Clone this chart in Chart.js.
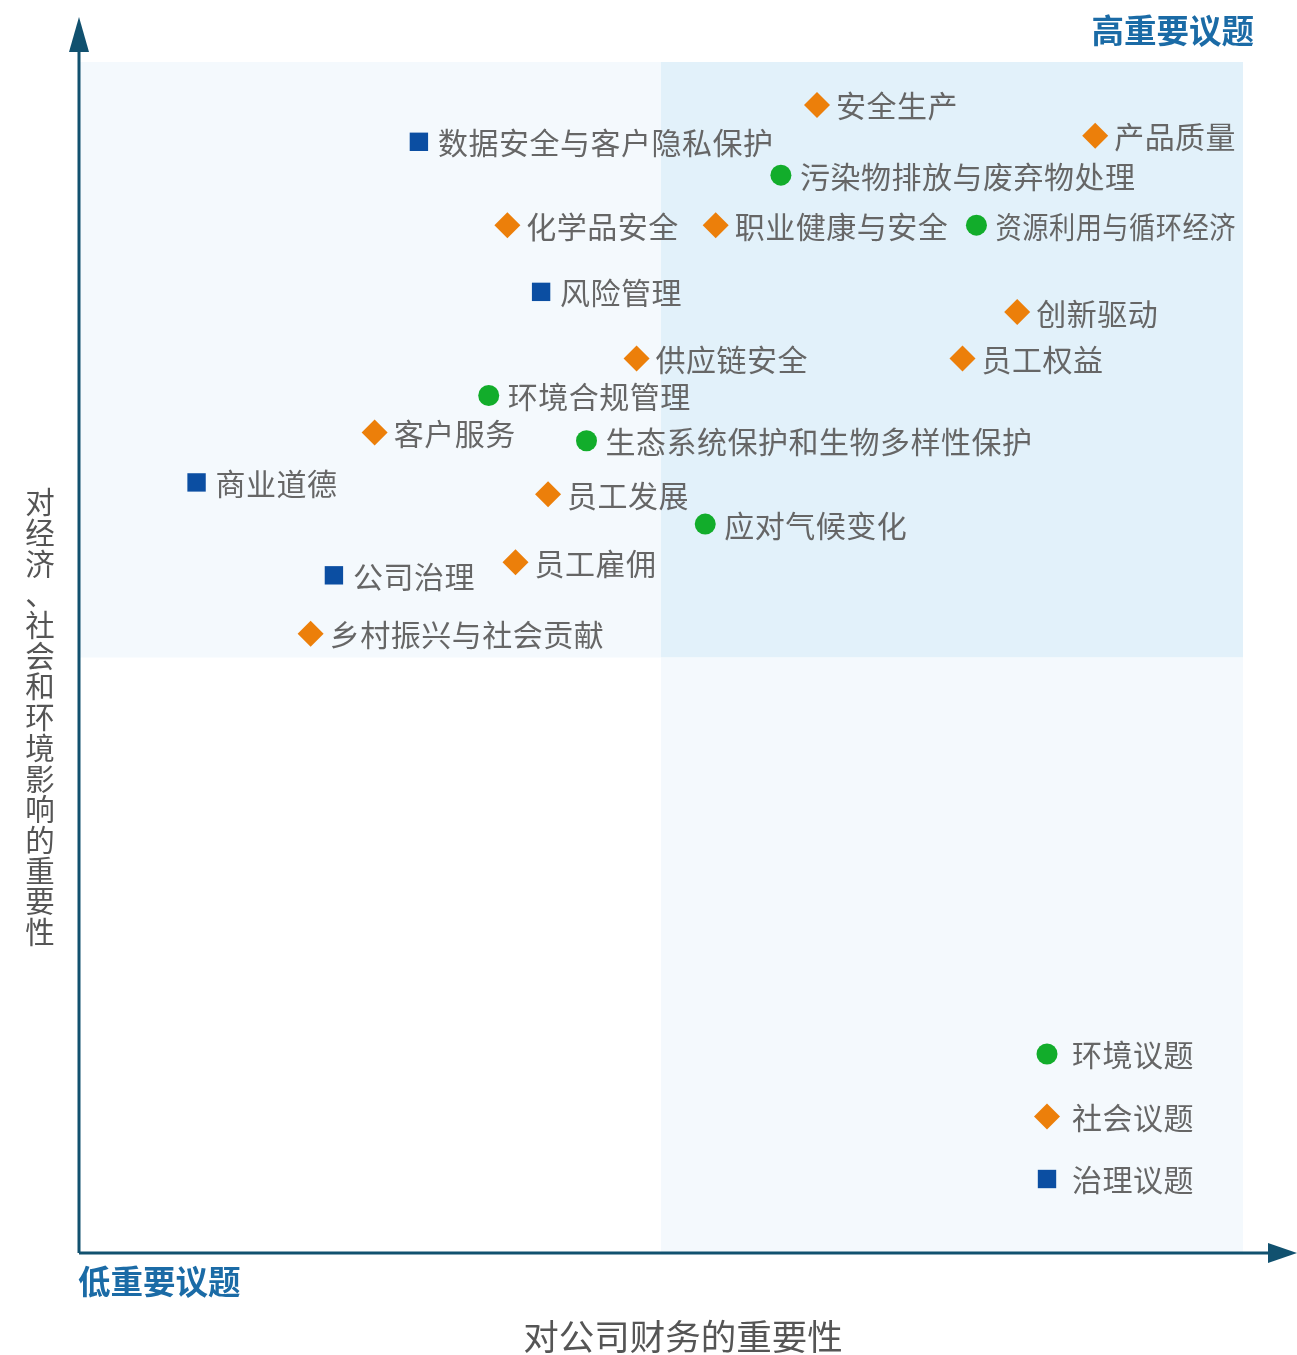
<!DOCTYPE html>
<html>
<head>
<meta charset="utf-8">
<script src="https://cdn.jsdelivr.net/npm/chart.js@4.4.1/dist/chart.umd.min.js"></script>
<style>
  html, body { margin: 0; padding: 0; background: #ffffff; }
  #wrap { width: 1297px; height: 1355px; position: relative; }
</style>
</head>
<body>
<div id="wrap"><canvas id="c" width="1297" height="1355"></canvas></div>
<script>
// ---- Data ----
const seriesNames = ['环境议题', '社会议题', '治理议题'];

const envLabels = ['污染物排放与废弃物处理', '资源利用与循环经济', '环境合规管理', '生态系统保护和生物多样性保护', '应对气候变化'];
const envX = [60.3, 77.1, 35.2, 43.6, 53.8];
const envY = [90.5, 86.3, 72.0, 68.2, 61.2];

const socLabels = ['安全生产', '产品质量', '化学品安全', '职业健康与安全', '创新驱动', '供应链安全', '员工权益', '客户服务', '员工发展', '员工雇佣', '乡村振兴与社会贡献'];
const socX = [63.4, 87.3, 36.8, 54.7, 80.6, 47.9, 75.9, 25.4, 40.3, 37.5, 19.9];
const socY = [96.4, 93.8, 86.3, 86.3, 79.0, 75.1, 75.1, 68.9, 63.7, 58.0, 52.0];

const govLabels = ['数据安全与客户隐私保护', '风险管理', '商业道德', '公司治理'];
const govX = [29.2, 39.7, 10.1, 21.9];
const govY = [93.3, 80.7, 64.7, 56.9];

const axisTitleX = '对公司财务的重要性';
const axisTitleY = '对经济、社会和环境影响的重要性';
const highLabel = '高重要议题';
const lowLabel = '低重要议题';

const toPoints = (xs, ys, ls) => xs.map((x, i) => ({ x: x, y: ys[i], label: ls[i] }));

const FONT = '"Noto Sans CJK SC", "Noto Sans", sans-serif';
const AXIS_COLOR = '#11516f';

const matrixPlugin = {
  id: 'matrix',
  beforeDatasetsDraw(chart) {
    const { ctx, chartArea: a, scales } = chart;
    const mx = scales.x.getPixelForValue(50);
    const my = scales.y.getPixelForValue(50);
    ctx.save();
    ctx.fillStyle = '#f4f9fd';
    ctx.fillRect(a.left, a.top, mx - a.left, my - a.top);
    ctx.fillStyle = '#e2f1fa';
    ctx.fillRect(mx, a.top, a.right - mx, my - a.top);
    ctx.fillStyle = '#f4f9fd';
    ctx.fillRect(mx, my, a.right - mx, a.bottom - my);
    ctx.restore();
  },
  afterDatasetsDraw(chart) {
    const { ctx, chartArea: a } = chart;
    ctx.save();
    // axes
    ctx.strokeStyle = AXIS_COLOR;
    ctx.fillStyle = AXIS_COLOR;
    ctx.lineWidth = 3;
    ctx.beginPath();
    ctx.moveTo(a.left, a.bottom);
    ctx.lineTo(a.left, a.top - 12);
    ctx.moveTo(a.left, a.bottom);
    ctx.lineTo(a.right + 28, a.bottom);
    ctx.stroke();
    // arrows
    ctx.beginPath();
    ctx.moveTo(a.left, a.top - 45);
    ctx.lineTo(a.left - 10, a.top - 10);
    ctx.lineTo(a.left + 10, a.top - 10);
    ctx.closePath();
    ctx.fill();
    ctx.beginPath();
    ctx.moveTo(a.right + 54, a.bottom);
    ctx.lineTo(a.right + 25, a.bottom - 10);
    ctx.lineTo(a.right + 25, a.bottom + 10);
    ctx.closePath();
    ctx.fill();

    // point labels
    ctx.font = '30px ' + FONT;
    ctx.letterSpacing = '0.5px';
    ctx.fillStyle = '#666666';
    ctx.textAlign = 'left';
    ctx.textBaseline = 'middle';
    chart.data.datasets.forEach((ds, di) => {
      const meta = chart.getDatasetMeta(di);
      meta.data.forEach((el, i) => {
        const sx = el.x + 19;
        ctx.fillText(ds.data[i].label, sx, el.y + 1, a.right - 7 - sx);
      });
    });

    // legend
    const lx = a.right - 196;
    const ly0 = a.bottom - 199;
    chart.data.datasets.forEach((ds, di) => {
      const y = ly0 + di * 62.5;
      drawMarker(ctx, ds.pointStyle, lx, y, ds.pointRadius, ds.backgroundColor);
      ctx.fillStyle = '#666666';
      ctx.font = '30px ' + FONT;
      ctx.fillText(ds.label, lx + 25, y + 1);
    });

    // corner labels
    ctx.letterSpacing = '0px';
    ctx.font = 'bold 32.5px ' + FONT;
    ctx.fillStyle = '#1b6ba6';
    ctx.textAlign = 'right';
    ctx.fillText(highLabel, a.right + 11, 31);
    ctx.textAlign = 'left';
    ctx.fillText(lowLabel, a.left - 1, a.bottom + 29);

    // axis titles
    ctx.fillStyle = '#555555';
    ctx.font = '35.5px ' + FONT;
    ctx.textAlign = 'center';
    ctx.fillText(axisTitleX, 683, a.bottom + 84);
    ctx.font = '29.5px ' + FONT;
    const chars = Array.from(axisTitleY);
    chars.forEach((ch, i) => {
      ctx.fillText(ch, 40, 502 + i * 30.7);
    });
    ctx.restore();
  }
};

function drawMarker(ctx, style, x, y, r, color) {
  ctx.save();
  ctx.fillStyle = color;
  ctx.beginPath();
  if (style === 'circle') {
    ctx.arc(x, y, r, 0, Math.PI * 2);
  } else if (style === 'rectRot') {
    ctx.moveTo(x, y - r); ctx.lineTo(x + r, y); ctx.lineTo(x, y + r); ctx.lineTo(x - r, y);
    ctx.closePath();
  } else {
    const s = Math.SQRT1_2 * r;
    ctx.rect(x - s, y - s, 2 * s, 2 * s);
  }
  ctx.fill();
  ctx.restore();
}

new Chart(document.getElementById('c'), {
  type: 'scatter',
  data: {
    datasets: [
      { label: seriesNames[0], data: toPoints(envX, envY, envLabels), pointStyle: 'circle', pointRadius: 10.5, backgroundColor: '#12ad2b', borderWidth: 0 },
      { label: seriesNames[1], data: toPoints(socX, socY, socLabels), pointStyle: 'rectRot', pointRadius: 13, backgroundColor: '#ec7f0a', borderWidth: 0 },
      { label: seriesNames[2], data: toPoints(govX, govY, govLabels), pointStyle: 'rect', pointRadius: 13, backgroundColor: '#0b4ea2', borderWidth: 0 }
    ]
  },
  options: {
    responsive: false,
    animation: false,
    layout: { padding: { left: 79, right: 54, top: 62, bottom: 102 } },
    scales: {
      x: { type: 'linear', min: 0, max: 100, display: false },
      y: { type: 'linear', min: 0, max: 100, display: false }
    },
    plugins: {
      legend: { display: false },
      tooltip: { enabled: false }
    }
  },
  plugins: [matrixPlugin]
});
</script>
</body>
</html>
